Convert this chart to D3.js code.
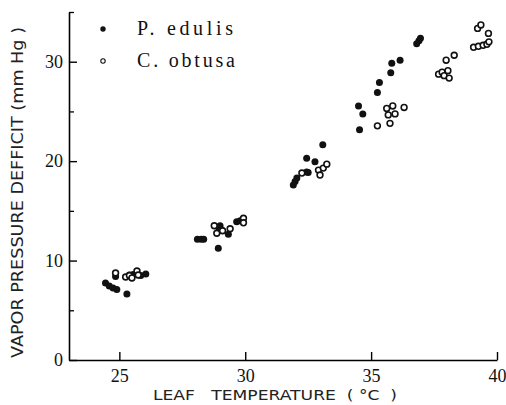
<!DOCTYPE html>
<html>
<head>
<meta charset="utf-8">
<script src="https://cdn.jsdelivr.net/npm/d3@7"></script>
<style>
  body { margin: 0; background: #fff; }
  svg { display: block; }
  .tick text { font-family: "Liberation Serif", serif; }
</style>
</head>
<body>
<svg width="506" height="405"></svg>
<script>
// Leaf temperature (deg C) vs vapor pressure deficit (mm Hg)

// P. edulis (filled dots)
const edulisTemp = [24.45, 24.6, 24.75, 24.9, 25.3, 24.85, 25.4, 25.55, 25.85, 26.05,
  28.1, 28.25, 28.35, 28.93, 29.0, 29.05, 28.95, 29.33, 29.66, 29.8,
  31.91, 31.98, 32.05, 32.44, 32.5, 32.44, 32.77, 33.08,
  34.5, 34.67, 34.54, 35.25, 35.33, 35.78, 35.82, 36.15,
  36.81, 36.9, 36.96];
const edulisVpd = [7.75, 7.45, 7.25, 7.1, 6.65, 8.4, 8.55, 8.6, 8.5, 8.65,
  12.15, 12.15, 12.15, 11.25, 13.5, 13.1, 13.3, 12.65, 13.9, 14.0,
  17.6, 17.95, 18.3, 20.3, 18.85, 18.9, 19.95, 21.65,
  25.55, 24.75, 23.15, 26.9, 27.9, 28.9, 29.85, 30.15,
  31.8, 32.1, 32.35];

// C. obtusa (open circles)
const obtusaTemp = [24.85, 25.25, 25.4, 25.5, 25.7, 25.75,
  28.77, 28.87, 29.1, 29.4, 29.93, 29.93,
  32.25, 32.91, 32.97, 33.1, 33.24,
  35.25, 35.62, 35.68, 35.75, 35.86, 35.95, 36.31,
  37.68, 37.82, 37.9, 37.98, 38.05, 38.1, 38.3,
  39.07, 39.26, 39.45, 39.6, 39.68, 39.23, 39.36, 39.66];
const obtusaVpd = [8.75, 8.35, 8.5, 8.25, 8.95, 8.55,
  13.5, 12.75, 13.0, 13.2, 14.25, 13.8,
  18.8, 19.1, 18.6, 19.3, 19.7,
  23.55, 25.3, 24.65, 23.8, 25.55, 24.75, 25.4,
  28.75, 28.95, 28.6, 30.15, 29.1, 28.35, 30.65,
  31.45, 31.55, 31.65, 31.75, 32.0, 33.35, 33.7, 32.85];

const xTicks = [25, 30, 35, 40];
const yTicks = [0, 10, 20, 30];
const yMinor = [5, 15, 25, 35];

const svg = d3.select("svg");

const x = d3.scaleLinear().domain([23, 40]).range([69, 497]);
const y = d3.scaleLinear().domain([0, 35]).range([360, 12]);

// X axis, ticks point inward (up)
svg.append("g")
    .attr("transform", "translate(0,360)")
    .call(d3.axisBottom(x).tickValues(xTicks).tickSize(-8).tickPadding(9).tickSizeOuter(0))
    .call(g => g.select(".domain").attr("stroke-width", 1.6))
    .call(g => g.selectAll(".tick line").attr("stroke-width", 1.4))
    .call(g => g.selectAll(".tick text").attr("font-size", 18).attr("fill", "#111"));

// Y axis, major + minor ticks inward (right)
svg.append("g")
    .attr("transform", "translate(69,0)")
    .call(d3.axisLeft(y).tickValues(yMinor).tickSize(-5).tickFormat("").tickSizeOuter(0))
    .call(g => g.select(".domain").remove())
    .call(g => g.selectAll(".tick line").attr("stroke-width", 1.3));

svg.append("g")
    .attr("transform", "translate(69,0)")
    .call(d3.axisLeft(y).tickValues(yTicks).tickSize(-8).tickPadding(-1).tickSizeOuter(0))
    .call(g => g.select(".domain").attr("stroke-width", 1.6))
    .call(g => g.selectAll(".tick line").attr("stroke-width", 1.4))
    .call(g => g.selectAll(".tick text").attr("font-size", 18).attr("fill", "#111").attr("dx", -7));

// Axis titles
svg.append("text")
    .attr("x", 153).attr("y", 400)
    .attr("font-family", "DejaVu Sans, sans-serif")
    .attr("font-size", 14)
    .attr("fill", "#222")
    .style("white-space", "pre")
    .attr("textLength", 244).attr("lengthAdjust", "spacingAndGlyphs")
    .text("LEAF   TEMPERATURE  ( °C  )");

svg.append("text")
    .attr("transform", "translate(23,358) rotate(-90)")
    .attr("font-family", "DejaVu Sans, sans-serif")
    .attr("font-size", 15)
    .attr("fill", "#222")
    .style("white-space", "pre")
    .attr("textLength", 331).attr("lengthAdjust", "spacingAndGlyphs")
    .text("VAPOR PRESSURE DEFFICIT (mm Hg )");

// Data points
svg.append("g").selectAll("circle")
    .data(edulisTemp.map((t, i) => [t, edulisVpd[i]]))
    .join("circle")
    .attr("cx", d => x(d[0]))
    .attr("cy", d => y(d[1]))
    .attr("r", 3.5)
    .attr("fill", "#111");

svg.append("g").selectAll("circle")
    .data(obtusaTemp.map((t, i) => [t, obtusaVpd[i]]))
    .join("circle")
    .attr("cx", d => x(d[0]))
    .attr("cy", d => y(d[1]))
    .attr("r", 2.9)
    .attr("fill", "#fff")
    .attr("stroke", "#111")
    .attr("stroke-width", 1.6);

// Legend
const legend = svg.append("g").attr("font-family", "Liberation Serif, serif").attr("font-size", 20).attr("fill", "#111");
legend.append("circle").attr("cx", 103).attr("cy", 29).attr("r", 2.7).attr("fill", "#111");
legend.append("text").attr("x", 137).attr("y", 35)
    .attr("textLength", 96).attr("lengthAdjust", "spacing").text("P.  edulis");
legend.append("circle").attr("cx", 103).attr("cy", 61).attr("r", 2.2)
    .attr("fill", "#fff").attr("stroke", "#111").attr("stroke-width", 1.1);
legend.append("text").attr("x", 137).attr("y", 67)
    .attr("textLength", 98).attr("lengthAdjust", "spacing").text("C.  obtusa");
</script>
</body>
</html>
